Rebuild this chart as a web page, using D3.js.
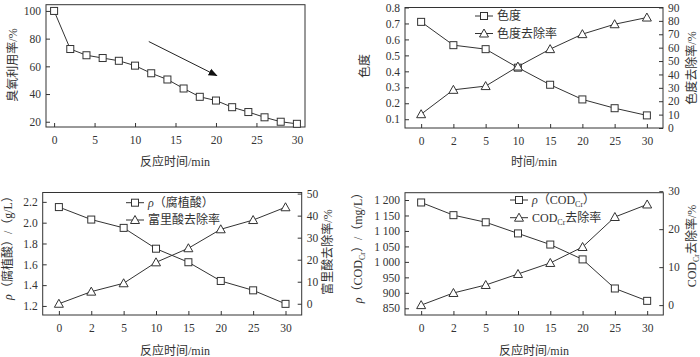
<!DOCTYPE html>
<html><head><meta charset="utf-8">
<script src="https://cdn.jsdelivr.net/npm/d3@7"></script>
<style>
body{margin:0;background:#fff;}
svg{display:block;}
text{font-family:"Liberation Serif","Noto Sans CJK SC",serif;fill:#333;}
</style></head>
<body>
<svg id="c" width="700" height="357"></svg>
<script>
// ---- data ----
const ozoneTime = [0,2,4,6,8,10,12,14,16,18,20,22,24,26,28,30];
const ozoneUtil = [100,72.5,68,66,64,60.5,55,50.5,44,38,35.3,30.5,27,23.2,20,18.5];
const ozoneTicksX = [0,5,10,15,20,25,30];
const ozoneTicksY = [20,40,60,80,100];
const arrowFrom = [11.7,77.9];
const arrowTo = [20.1,53.3];

const times = ["0","2","5","10","15","20","25","30"];
const chroma = [0.71,0.564,0.539,0.423,0.316,0.224,0.169,0.124];
const chromaRemoval = [10.3,28.5,31.3,45.9,58.9,70.1,77.5,82.5];
const chromaTicks = [0.1,0.2,0.3,0.4,0.5,0.6,0.7,0.8];
const chromaRemTicks = [0,10,20,30,40,50,60,70,80,90];

const humic = [2.15,2.03,1.95,1.75,1.62,1.44,1.35,1.22];
const fulvicRemoval = [0,5.5,9.3,18.8,25.2,33.8,38,43.8];
const humicTicks = [1.2,1.4,1.6,1.8,2.0,2.2];
const fulvicTicks = [0,10,20,30,40,50];

const cod = [1192,1151,1128,1092,1056,1008,914,874];
const codRemoval = [0,3.2,5.3,8.2,11.1,15.3,23.2,26.5];
const codTicks = [850,900,950,1000,1050,1100,1150,1200];
const codTickLabels = ["850","900","950","1 000","1 050","1 100","1 150","1 200"];
const codRemTicks = [0,10,20,30];

// ---- drawing ----
const svg = d3.select("#c");
const ink = "#333";
const defs = svg.append("defs");
defs.append("marker").attr("id","ah").attr("viewBox","0 0 10 10").attr("refX",9).attr("refY",5)
  .attr("markerWidth",9).attr("markerHeight",9).attr("markerUnits","userSpaceOnUse").attr("orient","auto")
  .append("path").attr("d","M0,1 L10,5 L0,9 Z").attr("fill","#111");

function frame(x0,x1,y0,y1){
  svg.append("rect").attr("x",x0).attr("y",y0).attr("width",x1-x0).attr("height",y1-y0)
    .attr("fill","none").attr("stroke",ink).attr("stroke-width",1);
}
function styleAxis(g){
  g.select(".domain").remove();
  g.selectAll("line").attr("stroke",ink);
  g.selectAll("text").attr("font-size",11.5).attr("font-family",'"Liberation Serif","Noto Sans CJK SC",serif').attr("fill",ink);
}
function square(g,x,y){
  g.append("rect").attr("x",x-3.5).attr("y",y-3.5).attr("width",7).attr("height",7)
    .attr("fill","#fff").attr("stroke",ink).attr("stroke-width",1);
}
function tri(g,x,y){
  g.append("path").attr("d",`M${x},${y-4.5}L${x+4.5},${y+3.5}L${x-4.5},${y+3.5}Z`)
    .attr("fill","#fff").attr("stroke",ink).attr("stroke-width",1);
}
function series(xs,ys,xsc,ysc,marker){
  const line = d3.line().x((d,i)=>xsc(xs[i])).y(d=>ysc(d));
  svg.append("path").datum(ys).attr("d",line).attr("fill","none").attr("stroke",ink).attr("stroke-width",1);
  const g = svg.append("g");
  ys.forEach((d,i)=>marker(g,xsc(xs[i]),ysc(d)));
}
function legendRow(x,y,marker,build){
  svg.append("line").attr("x1",x).attr("x2",x+18).attr("y1",y).attr("y2",y).attr("stroke",ink);
  const g = svg.append("g"); marker(g,x+9,y);
  const t = svg.append("text").attr("x",x+22).attr("y",y).attr("dy","0.35em").attr("font-size",12);
  build(t);
}
function vlabel(x,y,build){
  const t = svg.append("text").attr("transform",`translate(${x},${y}) rotate(-90)`)
    .attr("text-anchor","middle").attr("dy","0.35em").attr("font-size",12);
  build(t);
}
function hlabel(x,y,txt){
  svg.append("text").attr("x",x).attr("y",y).attr("text-anchor","middle").attr("dy","0.35em")
    .attr("font-size",12).text(txt);
}
function sub(t,main,s,rest){
  t.append("tspan").text(main);
  t.append("tspan").text(s).attr("font-size",8).attr("dy",3);
  t.append("tspan").text(rest).attr("dy",-3);
}

// Panel 1
{
  const x0=46,x1=305,y0=4.7,y1=127;
  const x=d3.scaleLinear().domain([-1,31]).range([x0,x1]);
  const y=d3.scaleLinear().domain([16.2,104.5]).range([y1,y0]);
  svg.append("g").attr("transform",`translate(0,${y1})`)
    .call(d3.axisBottom(x).tickValues(ozoneTicksX).tickSize(-4).tickPadding(9)).call(styleAxis);
  svg.append("g").attr("transform",`translate(${x0},0)`)
    .call(d3.axisLeft(y).tickValues(ozoneTicksY).tickSize(-4).tickPadding(5)).call(styleAxis);
  frame(x0,x1,y0,y1);
  series(ozoneTime,ozoneUtil,x,y,square);
  svg.append("line").attr("x1",x(arrowFrom[0])).attr("y1",y(arrowFrom[1]))
    .attr("x2",x(arrowTo[0])).attr("y2",y(arrowTo[1])).attr("stroke","#222").attr("marker-end","url(#ah)");
  vlabel(13,65,t=>t.text("臭氧利用率/%"));
  hlabel(175,162,"反应时间/min");
}
// Panel 2
{
  const x0=405,x1=663,y0=7.5,y1=128;
  const x=d3.scalePoint().domain(times).range([x0,x1]).padding(0.5);
  const yl=d3.scaleLinear().domain([0.045,0.8]).range([y1,y0]);
  const yr=d3.scaleLinear().domain([0,90]).range([y1,y0]);
  svg.append("g").attr("transform",`translate(0,${y1})`)
    .call(d3.axisBottom(x).tickSize(-4).tickPadding(9)).call(styleAxis);
  svg.append("g").attr("transform",`translate(${x0},0)`)
    .call(d3.axisLeft(yl).tickValues(chromaTicks).tickFormat(d3.format(".1f")).tickSize(-4).tickPadding(5)).call(styleAxis);
  svg.append("g").attr("transform",`translate(${x1},0)`)
    .call(d3.axisRight(yr).tickValues(chromaRemTicks).tickSize(-4).tickPadding(5)).call(styleAxis);
  frame(x0,x1,y0,y1);
  series(times,chroma,x,yl,square);
  series(times,chromaRemoval,x,yr,tri);
  legendRow(475,16,square,t=>t.text("色度"));
  legendRow(475,33.5,tri,t=>t.text("色度去除率"));
  vlabel(365,66,t=>t.text("色度"));
  vlabel(692,68,t=>t.text("色度去除率/%"));
  hlabel(534,162,"时间/min");
}
// Panel 3
{
  const x0=42.7,x1=301.7,y0=192.5,y1=315;
  const x=d3.scalePoint().domain(times).range([x0,x1]).padding(0.5);
  const yl=d3.scaleLinear().domain([1.113,2.29]).range([y1,y0]);
  const yr=d3.scaleLinear().domain([-5.1,50.5]).range([y1,y0]);
  svg.append("g").attr("transform",`translate(0,${y1})`)
    .call(d3.axisBottom(x).tickSize(-4).tickPadding(9)).call(styleAxis);
  svg.append("g").attr("transform",`translate(${x0},0)`)
    .call(d3.axisLeft(yl).tickValues(humicTicks).tickFormat(d3.format(".1f")).tickSize(-4).tickPadding(5)).call(styleAxis);
  svg.append("g").attr("transform",`translate(${x1},0)`)
    .call(d3.axisRight(yr).tickValues(fulvicTicks).tickSize(-4).tickPadding(5)).call(styleAxis);
  frame(x0,x1,y0,y1);
  series(times,humic,x,yl,square);
  series(times,fulvicRemoval,x,yr,tri);
  legendRow(126,202.7,square,t=>{t.append("tspan").text("ρ").attr("font-style","italic");t.append("tspan").text("（腐植酸）");});
  legendRow(126,220,tri,t=>t.text("富里酸去除率"));
  vlabel(8,245,t=>{t.append("tspan").text("ρ").attr("font-style","italic");t.append("tspan").text("（腐植酸）/（g/L）");});
  vlabel(328,252,t=>t.text("富里酸去除率/%"));
  hlabel(175,351,"反应时间/min");
}
// Panel 4
{
  const x0=405,x1=663.3,y0=192.7,y1=315;
  const x=d3.scalePoint().domain(times).range([x0,x1]).padding(0.5);
  const yl=d3.scaleLinear().domain([828.3,1223.6]).range([y1,y0]);
  const yr=d3.scaleLinear().domain([-2.6,29.6]).range([y1,y0]);
  svg.append("g").attr("transform",`translate(0,${y1})`)
    .call(d3.axisBottom(x).tickSize(-4).tickPadding(9)).call(styleAxis);
  svg.append("g").attr("transform",`translate(${x0},0)`)
    .call(d3.axisLeft(yl).tickValues(codTicks).tickFormat((d,i)=>codTickLabels[i]).tickSize(-4).tickPadding(5)).call(styleAxis);
  svg.append("g").attr("transform",`translate(${x1},0)`)
    .call(d3.axisRight(yr).tickValues(codRemTicks).tickSize(-4).tickPadding(5)).call(styleAxis);
  frame(x0,x1,y0,y1);
  series(times,cod,x,yl,square);
  series(times,codRemoval,x,yr,tri);
  legendRow(510,200,square,t=>{t.append("tspan").text("ρ").attr("font-style","italic");sub(t,"（COD","Cr","）");});
  legendRow(510,217.7,tri,t=>{sub(t,"COD","Cr","去除率");});
  vlabel(358,245,t=>{t.append("tspan").text("ρ").attr("font-style","italic");sub(t,"（COD","Cr","）/（mg/L）");});
  vlabel(692,246,t=>{sub(t,"COD","Cr","去除率/%");});
  hlabel(534,351,"反应时间/min");
}
</script>
</body></html>
